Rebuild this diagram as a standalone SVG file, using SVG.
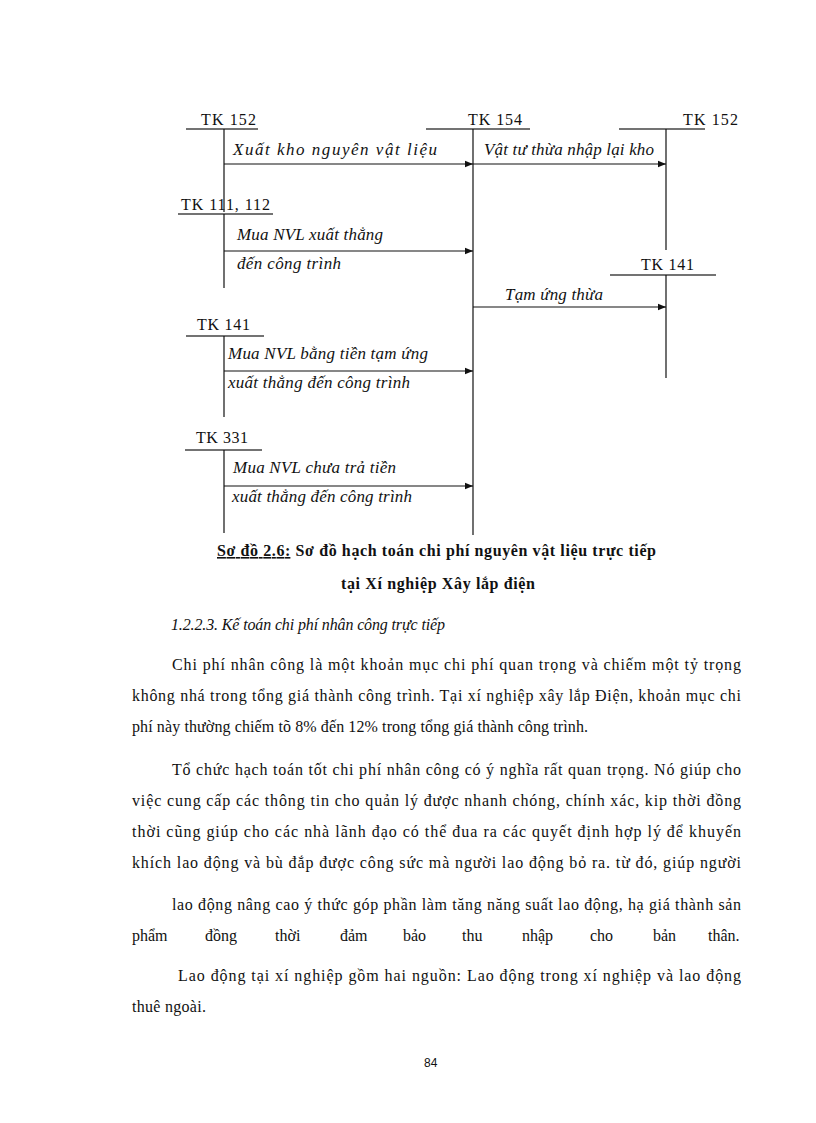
<svg xmlns="http://www.w3.org/2000/svg" width="816" height="1123" viewBox="0 0 816 1123">
<style>
.tk{font-family:"Liberation Serif",serif;font-size:16px;fill:#111}
.lb{font-family:"Liberation Serif",serif;font-size:17px;font-style:italic;fill:#111}
.hd{font-family:"Liberation Serif",serif;font-size:16px;font-style:italic;fill:#111}
.body{font-family:"Liberation Serif",serif;font-size:16px;fill:#111}
.cap{font-family:"Liberation Serif",serif;font-size:16px;font-weight:bold;fill:#111}
.ul{stroke:#444;stroke-width:1.5}
.v{stroke:#111;stroke-width:1.2}
.a{stroke:#111;stroke-width:1.2;marker-end:url(#ah)}
</style>
<defs>
<marker id="ah" viewBox="0 0 10 10" refX="10" refY="5" markerWidth="8" markerHeight="8" markerUnits="userSpaceOnUse" orient="auto">
<path d="M0,1 L10,5 L0,9 Z" fill="#111"/>
</marker>
</defs>
<rect width="816" height="1123" fill="#fff"/>

<g id="tk152-left">
<text class="tk" x="201" y="125" textLength="55">TK 152</text>
<line class="ul" x1="186" y1="129" x2="258" y2="129"/>
<line class="v" x1="224" y1="129" x2="224" y2="212"/>
</g>
<g id="tk154">
<text class="tk" x="468" y="125" textLength="54">TK 154</text>
<line class="ul" x1="426" y1="129" x2="530" y2="129"/>
<line class="v" x1="473" y1="129" x2="473" y2="535"/>
</g>
<g id="tk152-right">
<text class="tk" x="683" y="125" textLength="55">TK 152</text>
<line class="ul" x1="619" y1="129" x2="705" y2="129"/>
<line class="v" x1="666" y1="129" x2="666" y2="250"/>
</g>
<g id="tk111">
<text class="tk" x="181" y="210" textLength="89">TK 111, 112</text>
<line class="ul" x1="178" y1="214" x2="273" y2="214"/>
<line class="v" x1="224" y1="214" x2="224" y2="288"/>
</g>
<g id="tk141-right">
<text class="tk" x="641" y="270" textLength="53">TK 141</text>
<line class="ul" x1="610" y1="275" x2="716" y2="275"/>
<line class="v" x1="666" y1="275" x2="666" y2="378"/>
</g>
<g id="tk141-left">
<text class="tk" x="197" y="330" textLength="53">TK 141</text>
<line class="ul" x1="186" y1="336" x2="264" y2="336"/>
<line class="v" x1="224" y1="336" x2="224" y2="417"/>
</g>
<g id="tk331">
<text class="tk" x="196" y="443" textLength="52">TK 331</text>
<line class="ul" x1="185" y1="450" x2="262" y2="450"/>
<line class="v" x1="224" y1="450" x2="224" y2="533"/>
</g>

<g id="connectors">
<line class="a" x1="224" y1="164" x2="473" y2="164"/>
<line class="a" x1="473" y1="164" x2="666" y2="164"/>
<line class="a" x1="224" y1="251" x2="473" y2="251"/>
<line class="a" x1="473" y1="307" x2="666" y2="307"/>
<line class="a" x1="224" y1="371" x2="473" y2="371"/>
<line class="a" x1="224" y1="486" x2="473" y2="486"/>
<text class="lb" x="233" y="155" textLength="204">Xuất kho nguyên vật liệu</text>
<text class="lb" x="484" y="155" textLength="170">Vật tư thừa nhập lại kho</text>
<text class="lb" x="237" y="240" textLength="146">Mua NVL xuất thẳng</text>
<text class="lb" x="237" y="269" textLength="104">đến công trình</text>
<text class="lb" x="505" y="300" textLength="98">Tạm ứng thừa</text>
<text class="lb" x="228" y="359" textLength="200">Mua NVL bằng tiền tạm ứng</text>
<text class="lb" x="228" y="388" textLength="182">xuất thẳng đến công trình</text>
<text class="lb" x="233" y="473" textLength="163">Mua NVL chưa trả tiền</text>
<text class="lb" x="232" y="502" textLength="180">xuất thẳng đến công trình</text>
</g>

<g id="caption">
<text class="cap" x="217" y="556" textLength="439"><tspan text-decoration="underline">Sơ đồ 2.6:</tspan> Sơ đồ hạch toán chi phí nguyên vật liệu trực tiếp</text>
<text class="cap" x="341" y="589" textLength="194">tại Xí nghiệp Xây lắp điện</text>
</g>

<g id="text">
<text class="hd" x="171" y="630" textLength="274">1.2.2.3. Kế toán chi phí nhân công trực tiếp</text>
<text class="body" x="172" y="670" textLength="569">Chi phí nhân công là một khoản mục chi phí quan trọng và chiếm một tỷ trọng</text>
<text class="body" x="132" y="701" textLength="609">không nhá trong tổng giá thành công trình. Tại xí nghiệp xây lắp Điện, khoản mục chi</text>
<text class="body" x="132" y="732" textLength="456">phí này thường chiếm tõ 8% đến 12% trong tổng giá thành công trình.</text>
<text class="body" x="172" y="775" textLength="569">Tổ chức hạch toán tốt chi phí nhân công có ý nghĩa rất quan trọng. Nó giúp cho</text>
<text class="body" x="132" y="806" textLength="609">việc cung cấp các thông tin cho quản lý được nhanh chóng, chính xác, kip thời đồng</text>
<text class="body" x="132" y="837" textLength="609">thời cũng giúp cho các nhà lãnh đạo có thể đua ra các quyết định hợp lý để khuyến</text>
<text class="body" x="132" y="868" textLength="609">khích lao động và bù đắp được công sức mà người lao động bỏ ra. từ đó, giúp người</text>
<text class="body" x="172" y="910" textLength="569">lao động nâng cao ý thức góp phần làm tăng năng suất lao động, hạ giá thành sản</text>
<text class="body" y="941"><tspan x="132">phẩm</tspan><tspan x="205">đồng</tspan><tspan x="275">thời</tspan><tspan x="340">đảm</tspan><tspan x="403">bảo</tspan><tspan x="462">thu</tspan><tspan x="522">nhập</tspan><tspan x="590">cho</tspan><tspan x="653">bản</tspan><tspan x="708">thân.</tspan></text>
<text class="body" x="178" y="981" textLength="563">Lao động tại xí nghiệp gồm hai nguồn: Lao động trong xí nghiệp và lao động</text>
<text class="body" x="132" y="1012" textLength="74">thuê ngoài.</text>
<text class="body" x="424" y="1067" style="font-family:'Liberation Sans',sans-serif;font-size:12px">84</text>
</g>
</svg>
